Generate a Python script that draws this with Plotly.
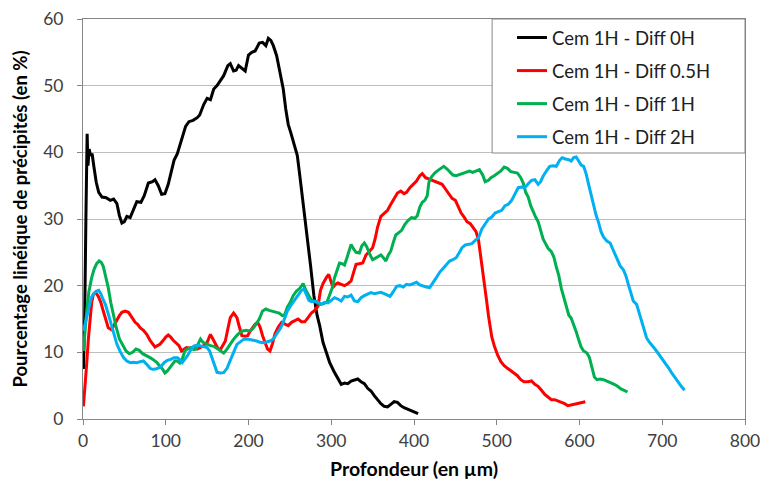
import plotly.graph_objects as go

# ---- data ----
x_0h = [0.5, 2, 3.5, 5, 6, 7.5, 9, 11, 13, 16, 19, 23, 28, 33, 37, 41, 44, 47, 50, 53, 57, 61, 65, 70, 74, 79, 84, 87, 91, 95, 99, 103, 107, 110, 114, 119, 124, 128, 133, 138, 141, 146, 150, 154, 158, 162, 166, 170, 175, 178, 182, 185, 188, 192, 196, 200, 204, 208, 213, 217, 221, 224, 227, 230, 234, 238, 242, 245, 248, 251, 255, 259, 262, 265, 268, 271, 275, 279, 283, 286, 290, 294, 298, 303, 308, 312, 316, 320, 324, 328, 332, 336, 340, 344, 348, 352, 356, 360, 364, 368, 372, 376, 380, 384, 388, 392, 396, 400, 405]
y_0h = [7.5, 15, 30, 42.8, 38, 40.5, 39.5, 39.8, 38, 35.5, 34, 33.3, 33.2, 32.8, 33, 32.3, 30.5, 29.4, 29.6, 30.4, 30.2, 31.5, 32.6, 32.5, 33.5, 35.4, 35.6, 35.9, 35, 33.7, 33.8, 35.2, 37.5, 38.8, 39.8, 42, 43.9, 44.6, 44.8, 45.2, 45.6, 47.2, 48.1, 47.9, 49.5, 50, 50.8, 51.5, 53, 53.3, 52.2, 52.3, 53, 52.6, 52.2, 54.6, 55, 55.2, 56.4, 56.5, 56, 57.1, 56.8, 56, 54.5, 52, 49.5, 46.5, 44.2, 43, 41.3, 39.5, 36.5, 33.5, 30.5, 27.8, 23, 18.5, 15.5, 14, 11.5, 10, 8.5, 7.2, 6, 5.2, 5.4, 5.3, 5.7, 5.8, 6, 5.6, 5.3, 4.6, 4.2, 3.5, 2.9, 2.3, 1.9, 1.8, 2.2, 2.6, 2.5, 2, 1.7, 1.5, 1.2, 1.0, 0.8]

x_05h = [0.5, 2, 4.4, 6.5, 8.5, 10.5, 12.5, 15, 18.5, 21.5, 24.5, 27.5, 30.5, 34.5, 38, 41, 44, 47, 51, 55, 59, 63, 66, 69, 73, 77, 81, 84, 87, 90, 93, 97, 100, 103, 106, 109, 113, 116, 119, 122, 125, 130, 134, 138, 142, 146, 150, 154, 157, 160, 163, 166, 169, 172, 175, 178, 182, 186, 189, 192, 196, 199, 202, 205, 208, 211, 214, 217, 220, 223, 226, 229, 232, 236, 240, 244, 248, 252, 256, 260, 264, 268, 272, 276, 280, 284, 287, 290, 294, 297, 300, 302, 305, 308, 312, 316, 320, 324, 327, 330, 334, 338, 342, 346, 350, 353, 356, 360, 364, 368, 372, 376, 380, 384, 388, 391, 395, 399, 403, 407, 410, 414, 418, 422, 426, 430, 434, 438, 442, 446, 450, 454, 457, 461, 464, 468, 472, 475, 478, 480, 482, 484, 486, 488, 490, 492, 494, 497, 501, 505, 509, 513, 517, 521, 525, 529, 533, 538, 542, 546, 550, 554, 558, 562, 566, 570, 574, 578, 582, 586, 590, 594, 598, 602, 607]
y_05h = [1.9, 4, 8.2, 12, 15.2, 17.5, 18.7, 19, 18.4, 17.5, 16.2, 14.8, 13.7, 13.4, 14.2, 15, 15.5, 16, 16.2, 16, 15.2, 14.5, 14.2, 13.7, 13.3, 12.7, 11.8, 11.2, 10.8, 11, 11.2, 11.8, 12.3, 12.6, 12.3, 11.8, 11.3, 11, 10.2, 10.5, 10.7, 10.6, 10.8, 10.5, 10.8, 11, 11.5, 12.7, 12, 11.2, 10.6, 10.4, 11, 11.7, 13.5, 15.2, 15.9, 15.2, 13.8, 12.5, 12.4, 12.5, 13.2, 13.7, 14.2, 14.5, 13.8, 12.5, 11.5, 10.5, 10.2, 11.3, 12.8, 13.8, 14.5, 14.2, 14, 14.5, 14.8, 15, 14.6, 14.6, 15.2, 15.9, 16.3, 16.9, 19.3, 20.3, 21.2, 21.7, 20.5, 19.7, 20.2, 20.4, 20.2, 20, 20.3, 20.7, 22, 23.2, 23.3, 23.4, 24.6, 25.2, 25.7, 27, 28.8, 30.4, 30.8, 31.3, 32.2, 33, 33.9, 34.2, 33.8, 34, 34.7, 35.2, 35.7, 36.5, 36.8, 36.2, 36, 35.9, 35.7, 35.5, 35.2, 34.5, 33.8, 33.1, 32.8, 31.8, 30.9, 30.2, 29.6, 29.3, 28.6, 28.1, 26.8, 25, 23.5, 21.8, 19.5, 17.5, 15.5, 13.7, 12.3, 11, 9.6, 8.6, 8, 7.6, 7.2, 6.8, 6.5, 5.9, 5.6, 5.6, 5.7, 5.2, 4.9, 4.3, 3.7, 3.3, 2.9, 2.9, 2.7, 2.6, 2.3, 2.0, 2.1, 2.3, 2.3, 2.5, 2.6]

x_1h = [0.5, 2.5, 4.5, 7, 10.5, 13.5, 16.5, 19.5, 22, 24.5, 27.5, 30.5, 33.5, 36.5, 40, 44, 48, 52, 56, 60, 64, 68, 72, 77, 81, 85, 89, 93, 96, 99, 102, 105, 108, 111, 114, 117, 120, 123, 126, 130, 134, 137, 140, 142, 145, 150, 154, 158, 162, 166, 170, 173, 177, 181, 185, 189, 193, 197, 201, 205, 209, 213, 217, 221, 225, 229, 233, 237, 241, 244, 247, 250, 254, 258, 262, 266, 269, 272, 275, 279, 283, 287, 291, 295, 298, 301, 304, 307, 310, 313, 316, 319, 322, 324, 327, 330, 334, 337, 340, 343, 347, 350, 353, 356, 360, 363, 366, 369, 372, 375, 378, 382, 385, 389, 393, 397, 401, 404, 407, 410, 413, 416, 418, 421, 425, 429, 433, 436, 440, 443, 447, 451, 455, 459, 463, 467, 471, 475, 479, 483, 486, 490, 493, 497, 501, 505, 509, 513, 517, 521, 525, 529, 532, 535, 538, 541, 544, 547, 550, 553, 556, 559, 562, 566, 569, 572, 575, 578, 581, 584, 587, 590, 593, 596, 599, 602, 605, 609, 612, 615, 618, 621, 625, 629, 633, 638, 642, 646, 650, 654, 658]
y_1h = [10.2, 13.5, 16.2, 19, 21.2, 22.5, 23.3, 23.7, 23.5, 22.9, 21.5, 19.7, 17.5, 15.7, 13.8, 12, 11, 10.2, 9.8, 10, 10.5, 10.3, 9.8, 9.4, 9.2, 8.9, 8.5, 7.9, 7.5, 6.9, 7.2, 7.7, 8.2, 8.7, 8.7, 8.4, 9, 10.2, 10.5, 10.7, 10.4, 10.5, 11.5, 12, 11.5, 11.2, 11, 10.9, 10.6, 10.2, 9.9, 10.3, 11.1, 11.8, 12.4, 12.9, 13.2, 13.3, 13.2, 13.5, 14.2, 15, 16.2, 16.5, 16.3, 16.2, 16, 15.9, 15.5, 15.7, 16.8, 17.4, 18.5, 19.2, 19.6, 20.3, 19.4, 18.6, 18, 17.6, 17.5, 17.2, 17.3, 17.6, 18.5, 19.6, 21.2, 22.3, 23.4, 23.3, 23.1, 24.2, 25.6, 26.2, 25.5, 25, 24.9, 26, 26.4, 25.8, 24.6, 23.9, 24.1, 24.3, 24.6, 24.2, 23.7, 24.6, 25.2, 26.5, 27.6, 28, 28.3, 29.2, 29.8, 30.2, 30.1, 30.5, 31.8, 32.5, 32.8, 33.5, 35.5, 36.3, 36.9, 37.3, 37.6, 37.9, 37.5, 37.1, 36.6, 36.5, 36.7, 36.8, 37.1, 37.2, 37, 37.2, 37.4, 36.6, 35.6, 35.8, 36.2, 36.5, 36.8, 37.2, 37.8, 37.6, 37.1, 37, 36.9, 36.2, 35.4, 34, 33.3, 32, 31, 30.3, 29.6, 28.2, 27, 26.3, 25.6, 25.1, 24.3, 22.8, 21.5, 19.6, 18.2, 16.8, 15.6, 15.1, 14.2, 13.1, 11.9, 10.8, 10.2, 9.9, 9.2, 7.8, 6.3, 5.9, 6, 5.9, 5.7, 5.5, 5.2, 4.9, 4.5, 4.3, 4.05]

x_2h = [0.5, 2.5, 4.5, 7, 10, 13, 16.5, 19, 21.5, 24, 27, 30, 33, 37, 41, 45, 49, 53, 57, 61, 65, 69, 73, 77, 81, 84, 88, 92, 95, 98, 102, 106, 110, 114, 117, 120, 123, 126, 130, 134, 138, 142, 146, 150, 153, 156, 159, 162, 166, 170, 174, 178, 182, 186, 190, 194, 198, 202, 206, 210, 214, 218, 222, 226, 230, 234, 238, 241, 244, 247, 251, 255, 258, 261, 264, 267, 270, 273, 276, 280, 284, 288, 292, 296, 300, 304, 308, 312, 316, 320, 324, 328, 332, 336, 340, 344, 348, 352, 356, 360, 364, 368, 371, 375, 379, 383, 387, 391, 395, 399, 403, 407, 411, 415, 419, 423, 427, 431, 435, 439, 443, 447, 451, 455, 458, 462, 466, 470, 474, 478, 482, 486, 490, 494, 498, 502, 506, 510, 514, 518, 522, 526, 530, 534, 538, 542, 546, 550, 553, 556, 560, 564, 568, 572, 576, 579, 583, 587, 590, 593, 596, 599, 602, 605, 608, 611, 614, 617, 620, 623, 626, 629, 633, 637, 640, 643, 646, 649, 653, 656, 659, 662, 665, 669, 672, 675, 678, 681, 684, 687, 690, 693, 696, 699, 702, 705, 708, 711, 715, 719, 723, 727]
y_2h = [13.2, 14.2, 15.2, 16.8, 18.2, 18.8, 19.2, 19.3, 18.8, 18, 17.2, 16, 14.7, 13, 11.2, 10.1, 9.2, 8.7, 8.45, 8.5, 8.45, 8.6, 8.7, 8.2, 7.6, 7.45, 7.5, 7.7, 8, 8.45, 8.8, 8.95, 9.2, 9.2, 8.9, 8.45, 8.9, 9.45, 10.3, 10.95, 11.1, 10.95, 10.8, 10.7, 10.2, 9.2, 8, 7, 6.9, 6.95, 7.6, 8.7, 10, 11.2, 11.6, 11.95, 12, 11.95, 11.8, 11.7, 11.5, 11.45, 11.6, 11.7, 12, 12.7, 13.5, 14.2, 15.3, 16.2, 17, 17.7, 18.3, 18.7, 19.3, 19.5, 18.7, 17.8, 17.6, 17.7, 17.5, 17.2, 17.5, 17.4, 17.8, 18.2, 18, 17.7, 18.4, 18.3, 18.6, 17.7, 17.6, 18.2, 18.5, 18.7, 18.95, 18.8, 18.9, 19, 18.8, 18.5, 18.4, 19.1, 19.9, 20, 19.8, 20.2, 20.1, 20.3, 20.5, 20.1, 19.9, 19.8, 19.7, 20.4, 21.2, 22, 22.6, 23.2, 23.7, 23.9, 24.2, 25, 25.7, 26.1, 26.2, 26.3, 26.8, 27.2, 28.5, 29.3, 30, 30.3, 30.9, 31.1, 31.3, 32, 32.2, 32.8, 33.7, 34.7, 34.8, 34.7, 35.3, 35.8, 35.9, 35.2, 35.6, 36.4, 37.2, 37.9, 38, 37.9, 38.8, 39.2, 39, 38.9, 38.7, 39.2, 39.3, 38.6, 38.1, 37.9, 36.8, 35.2, 33.5, 32.2, 30.6, 29.5, 28.1, 27.3, 26.7, 26.4, 25.5, 24.7, 23.9, 23, 22.4, 21.5, 20.2, 18.9, 17.7, 17.2, 16, 14.7, 13.5, 12.2, 11.6, 11.2, 10.7, 10.2, 9.7, 9.2, 8.7, 8.2, 7.6, 7, 6.3, 5.45, 4.9, 4.3]

series_names = ["Cem 1H - Diff 0H", "Cem 1H - Diff 0.5H", "Cem 1H - Diff 1H", "Cem 1H - Diff 2H"]
series_colors = ["#000000", "#FF0000", "#00B050", "#00B0F0"]
series_x = [x_0h, x_05h, x_1h, x_2h]
series_y = [y_0h, y_05h, y_1h, y_2h]

x_ticks = [0, 100, 200, 300, 400, 500, 600, 700, 800]
y_ticks = [0, 10, 20, 30, 40, 50, 60]

FONT = "Lato"
AXIS_GRAY = "#868686"

fig = go.Figure()
for i, (name, color, xs, ys) in enumerate(zip(series_names, series_colors, series_x, series_y)):
    fig.add_trace(go.Scatter(
        x=xs, y=ys, mode="lines", name=name, legendgroup=f"g{i}",
        line=dict(color=color, width=3),
    ))

# legend frame (white box with grey border in the top-right corner of the plot area)
fig.add_shape(
    type="rect", xref="paper", yref="paper",
    x0=0.618, x1=1.0, y0=0.665, y1=1.0,
    line=dict(color=AXIS_GRAY, width=1), fillcolor="white", layer="above",
)

fig.update_layout(
    width=764, height=487,
    margin=dict(l=83, r=19, t=19, b=68, autoexpand=False),
    paper_bgcolor="white", plot_bgcolor="white",
    font=dict(family=FONT, size=17, color="#404040"),
    legend=dict(
        x=0.648, xanchor="left", y=1.0, yanchor="top",
        bgcolor="rgba(0,0,0,0)", borderwidth=0,
        font=dict(family=FONT, size=18.5, color="#202020"),
        traceorder="grouped", tracegroupgap=6,
    ),
    showlegend=True,
)

fig.update_xaxes(
    range=[0, 800], tickvals=x_ticks, ticktext=[str(v) for v in x_ticks],
    showgrid=False, zeroline=False, automargin=False,
    showline=True, linecolor=AXIS_GRAY, linewidth=1, mirror=True,
    ticks="outside", ticklen=5, tickcolor=AXIS_GRAY, ticklabelstandoff=1,
    tickfont=dict(family=FONT, size=17.5, color="#404040"),
    title=dict(text="Profondeur (en µm)", font=dict(family=FONT, size=19.5, color="#000000", weight="bold"), standoff=12),
)
fig.update_yaxes(
    range=[0, 60], tickvals=y_ticks, ticktext=[str(v) for v in y_ticks],
    showgrid=True, gridcolor="#BDBDBD", gridwidth=1, zeroline=False, automargin=False,
    showline=True, linecolor=AXIS_GRAY, linewidth=1, mirror=True,
    ticks="outside", ticklen=5, tickcolor=AXIS_GRAY, ticklabelstandoff=10,
    tickfont=dict(family=FONT, size=17.5, color="#404040"),
    title=dict(text="Pourcentage linéique de précipités (en %)", font=dict(family=FONT, size=18.5, color="#000000", weight="bold"), standoff=10),
)

# remove the browser's default page margin so the 764x487 figure fills the window exactly
fig.write_html(
    "out.html",
    config={"displayModeBar": False},
    post_script="document.body.style.margin='0';document.body.style.overflow='hidden';",
)
